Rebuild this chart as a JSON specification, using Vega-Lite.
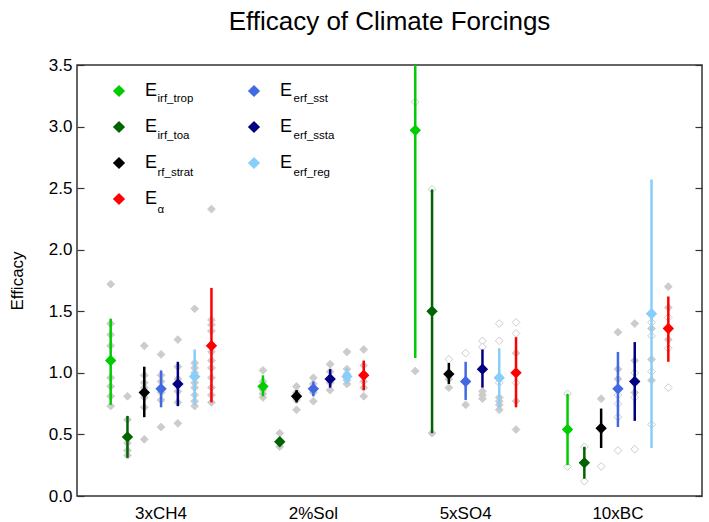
{
  "$schema": "https://vega.github.io/schema/vega-lite/v6.json",
  "width": 625,
  "height": 431,
  "autosize": {"type": "none"},
  "padding": {"left": 77, "top": 65, "right": 7, "bottom": 26},
  "title": {"text": "Efficacy of Climate Forcings", "fontSize": 26, "fontWeight": "normal", "color": "#000000", "anchor": "middle", "frame": "group", "baseline": "alphabetic", "offset": 0},
  "datasets": {
    "means": [
      {"group": "3xCH4", "series": "irf_trop", "sub": "irf_trop", "mean": 1.10, "lo": 0.74, "hi": 1.44},
      {"group": "3xCH4", "series": "irf_toa", "sub": "irf_toa", "mean": 0.48, "lo": 0.31, "hi": 0.65},
      {"group": "3xCH4", "series": "rf_strat", "sub": "rf_strat", "mean": 0.84, "lo": 0.64, "hi": 1.05},
      {"group": "3xCH4", "series": "erf_sst", "sub": "erf_sst", "mean": 0.87, "lo": 0.72, "hi": 1.02},
      {"group": "3xCH4", "series": "erf_ssta", "sub": "erf_ssta", "mean": 0.91, "lo": 0.73, "hi": 1.09},
      {"group": "3xCH4", "series": "erf_reg", "sub": "erf_reg", "mean": 0.97, "lo": 0.74, "hi": 1.19},
      {"group": "3xCH4", "series": "alpha", "sub": "α", "mean": 1.22, "lo": 0.76, "hi": 1.69},
      {"group": "2%Sol", "series": "irf_trop", "sub": "irf_trop", "mean": 0.89, "lo": 0.81, "hi": 0.98},
      {"group": "2%Sol", "series": "irf_toa", "sub": "irf_toa", "mean": 0.44, "lo": 0.42, "hi": 0.47},
      {"group": "2%Sol", "series": "rf_strat", "sub": "rf_strat", "mean": 0.81, "lo": 0.76, "hi": 0.86},
      {"group": "2%Sol", "series": "erf_sst", "sub": "erf_sst", "mean": 0.87, "lo": 0.81, "hi": 0.93},
      {"group": "2%Sol", "series": "erf_ssta", "sub": "erf_ssta", "mean": 0.95, "lo": 0.88, "hi": 1.03},
      {"group": "2%Sol", "series": "erf_reg", "sub": "erf_reg", "mean": 0.97, "lo": 0.91, "hi": 1.04},
      {"group": "2%Sol", "series": "alpha", "sub": "α", "mean": 0.98, "lo": 0.86, "hi": 1.10},
      {"group": "5xSO4", "series": "irf_trop", "sub": "irf_trop", "mean": 2.97, "lo": 1.12, "hi": 3.5},
      {"group": "5xSO4", "series": "irf_toa", "sub": "irf_toa", "mean": 1.50, "lo": 0.51, "hi": 2.49},
      {"group": "5xSO4", "series": "rf_strat", "sub": "rf_strat", "mean": 0.99, "lo": 0.91, "hi": 1.08},
      {"group": "5xSO4", "series": "erf_sst", "sub": "erf_sst", "mean": 0.93, "lo": 0.78, "hi": 1.09},
      {"group": "5xSO4", "series": "erf_ssta", "sub": "erf_ssta", "mean": 1.03, "lo": 0.88, "hi": 1.19},
      {"group": "5xSO4", "series": "erf_reg", "sub": "erf_reg", "mean": 0.96, "lo": 0.71, "hi": 1.20},
      {"group": "5xSO4", "series": "alpha", "sub": "α", "mean": 1.00, "lo": 0.72, "hi": 1.29},
      {"group": "10xBC", "series": "irf_trop", "sub": "irf_trop", "mean": 0.54, "lo": 0.25, "hi": 0.83},
      {"group": "10xBC", "series": "irf_toa", "sub": "irf_toa", "mean": 0.27, "lo": 0.14, "hi": 0.40},
      {"group": "10xBC", "series": "rf_strat", "sub": "rf_strat", "mean": 0.55, "lo": 0.39, "hi": 0.71},
      {"group": "10xBC", "series": "erf_sst", "sub": "erf_sst", "mean": 0.87, "lo": 0.56, "hi": 1.17},
      {"group": "10xBC", "series": "erf_ssta", "sub": "erf_ssta", "mean": 0.93, "lo": 0.61, "hi": 1.25},
      {"group": "10xBC", "series": "erf_reg", "sub": "erf_reg", "mean": 1.48, "lo": 0.39, "hi": 2.57},
      {"group": "10xBC", "series": "alpha", "sub": "α", "mean": 1.36, "lo": 1.09, "hi": 1.62}
    ],
    "models": [
      {"group": "3xCH4", "series": "irf_trop", "v": 1.72, "kind": "filled"},
      {"group": "3xCH4", "series": "irf_trop", "v": 1.40, "kind": "filled"},
      {"group": "3xCH4", "series": "irf_trop", "v": 1.31, "kind": "filled"},
      {"group": "3xCH4", "series": "irf_trop", "v": 1.22, "kind": "filled"},
      {"group": "3xCH4", "series": "irf_trop", "v": 1.10, "kind": "filled"},
      {"group": "3xCH4", "series": "irf_trop", "v": 0.96, "kind": "filled"},
      {"group": "3xCH4", "series": "irf_trop", "v": 0.89, "kind": "filled"},
      {"group": "3xCH4", "series": "irf_trop", "v": 0.81, "kind": "filled"},
      {"group": "3xCH4", "series": "irf_trop", "v": 0.73, "kind": "filled"},
      {"group": "3xCH4", "series": "irf_toa", "v": 0.81, "kind": "filled"},
      {"group": "3xCH4", "series": "irf_toa", "v": 0.62, "kind": "filled"},
      {"group": "3xCH4", "series": "irf_toa", "v": 0.48, "kind": "filled"},
      {"group": "3xCH4", "series": "irf_toa", "v": 0.43, "kind": "filled"},
      {"group": "3xCH4", "series": "irf_toa", "v": 0.37, "kind": "filled"},
      {"group": "3xCH4", "series": "irf_toa", "v": 0.33, "kind": "filled"},
      {"group": "3xCH4", "series": "rf_strat", "v": 1.22, "kind": "filled"},
      {"group": "3xCH4", "series": "rf_strat", "v": 0.98, "kind": "filled"},
      {"group": "3xCH4", "series": "rf_strat", "v": 0.92, "kind": "filled"},
      {"group": "3xCH4", "series": "rf_strat", "v": 0.88, "kind": "filled"},
      {"group": "3xCH4", "series": "rf_strat", "v": 0.80, "kind": "filled"},
      {"group": "3xCH4", "series": "rf_strat", "v": 0.72, "kind": "filled"},
      {"group": "3xCH4", "series": "rf_strat", "v": 0.46, "kind": "filled"},
      {"group": "3xCH4", "series": "erf_sst", "v": 1.15, "kind": "filled"},
      {"group": "3xCH4", "series": "erf_sst", "v": 0.98, "kind": "filled"},
      {"group": "3xCH4", "series": "erf_sst", "v": 0.93, "kind": "filled"},
      {"group": "3xCH4", "series": "erf_sst", "v": 0.84, "kind": "filled"},
      {"group": "3xCH4", "series": "erf_sst", "v": 0.78, "kind": "filled"},
      {"group": "3xCH4", "series": "erf_sst", "v": 0.56, "kind": "filled"},
      {"group": "3xCH4", "series": "erf_ssta", "v": 1.27, "kind": "filled"},
      {"group": "3xCH4", "series": "erf_ssta", "v": 1.05, "kind": "filled"},
      {"group": "3xCH4", "series": "erf_ssta", "v": 0.95, "kind": "filled"},
      {"group": "3xCH4", "series": "erf_ssta", "v": 0.85, "kind": "filled"},
      {"group": "3xCH4", "series": "erf_ssta", "v": 0.76, "kind": "filled"},
      {"group": "3xCH4", "series": "erf_ssta", "v": 0.59, "kind": "filled"},
      {"group": "3xCH4", "series": "erf_reg", "v": 1.52, "kind": "filled"},
      {"group": "3xCH4", "series": "erf_reg", "v": 1.08, "kind": "filled"},
      {"group": "3xCH4", "series": "erf_reg", "v": 1.04, "kind": "filled"},
      {"group": "3xCH4", "series": "erf_reg", "v": 1.00, "kind": "filled"},
      {"group": "3xCH4", "series": "erf_reg", "v": 0.92, "kind": "filled"},
      {"group": "3xCH4", "series": "erf_reg", "v": 0.88, "kind": "filled"},
      {"group": "3xCH4", "series": "erf_reg", "v": 0.82, "kind": "filled"},
      {"group": "3xCH4", "series": "erf_reg", "v": 0.77, "kind": "filled"},
      {"group": "3xCH4", "series": "erf_reg", "v": 0.73, "kind": "filled"},
      {"group": "3xCH4", "series": "alpha", "v": 2.33, "kind": "filled"},
      {"group": "3xCH4", "series": "alpha", "v": 1.43, "kind": "filled"},
      {"group": "3xCH4", "series": "alpha", "v": 1.39, "kind": "filled"},
      {"group": "3xCH4", "series": "alpha", "v": 1.34, "kind": "filled"},
      {"group": "3xCH4", "series": "alpha", "v": 1.17, "kind": "filled"},
      {"group": "3xCH4", "series": "alpha", "v": 1.10, "kind": "filled"},
      {"group": "3xCH4", "series": "alpha", "v": 1.04, "kind": "filled"},
      {"group": "3xCH4", "series": "alpha", "v": 0.96, "kind": "filled"},
      {"group": "3xCH4", "series": "alpha", "v": 0.88, "kind": "filled"},
      {"group": "3xCH4", "series": "alpha", "v": 0.82, "kind": "filled"},
      {"group": "3xCH4", "series": "alpha", "v": 0.76, "kind": "filled"},
      {"group": "2%Sol", "series": "irf_trop", "v": 1.02, "kind": "filled"},
      {"group": "2%Sol", "series": "irf_trop", "v": 0.93, "kind": "filled"},
      {"group": "2%Sol", "series": "irf_trop", "v": 0.86, "kind": "filled"},
      {"group": "2%Sol", "series": "irf_trop", "v": 0.83, "kind": "filled"},
      {"group": "2%Sol", "series": "irf_trop", "v": 0.80, "kind": "filled"},
      {"group": "2%Sol", "series": "irf_toa", "v": 0.51, "kind": "filled"},
      {"group": "2%Sol", "series": "irf_toa", "v": 0.44, "kind": "filled"},
      {"group": "2%Sol", "series": "irf_toa", "v": 0.40, "kind": "filled"},
      {"group": "2%Sol", "series": "rf_strat", "v": 0.89, "kind": "filled"},
      {"group": "2%Sol", "series": "rf_strat", "v": 0.84, "kind": "filled"},
      {"group": "2%Sol", "series": "rf_strat", "v": 0.78, "kind": "filled"},
      {"group": "2%Sol", "series": "rf_strat", "v": 0.70, "kind": "filled"},
      {"group": "2%Sol", "series": "erf_sst", "v": 0.96, "kind": "filled"},
      {"group": "2%Sol", "series": "erf_sst", "v": 0.91, "kind": "filled"},
      {"group": "2%Sol", "series": "erf_sst", "v": 0.84, "kind": "filled"},
      {"group": "2%Sol", "series": "erf_sst", "v": 0.77, "kind": "filled"},
      {"group": "2%Sol", "series": "erf_ssta", "v": 1.07, "kind": "filled"},
      {"group": "2%Sol", "series": "erf_ssta", "v": 1.01, "kind": "filled"},
      {"group": "2%Sol", "series": "erf_ssta", "v": 0.92, "kind": "filled"},
      {"group": "2%Sol", "series": "erf_ssta", "v": 0.86, "kind": "filled"},
      {"group": "2%Sol", "series": "erf_reg", "v": 1.17, "kind": "filled"},
      {"group": "2%Sol", "series": "erf_reg", "v": 1.03, "kind": "filled"},
      {"group": "2%Sol", "series": "erf_reg", "v": 0.99, "kind": "filled"},
      {"group": "2%Sol", "series": "erf_reg", "v": 0.94, "kind": "filled"},
      {"group": "2%Sol", "series": "erf_reg", "v": 0.91, "kind": "filled"},
      {"group": "2%Sol", "series": "alpha", "v": 1.19, "kind": "filled"},
      {"group": "2%Sol", "series": "alpha", "v": 1.06, "kind": "filled"},
      {"group": "2%Sol", "series": "alpha", "v": 0.99, "kind": "filled"},
      {"group": "2%Sol", "series": "alpha", "v": 0.93, "kind": "filled"},
      {"group": "2%Sol", "series": "alpha", "v": 0.88, "kind": "filled"},
      {"group": "2%Sol", "series": "alpha", "v": 0.81, "kind": "filled"},
      {"group": "5xSO4", "series": "irf_trop", "v": 3.20, "kind": "open"},
      {"group": "5xSO4", "series": "irf_trop", "v": 1.015, "kind": "filled"},
      {"group": "5xSO4", "series": "irf_toa", "v": 2.49, "kind": "open"},
      {"group": "5xSO4", "series": "irf_toa", "v": 0.51, "kind": "filled"},
      {"group": "5xSO4", "series": "rf_strat", "v": 1.11, "kind": "open"},
      {"group": "5xSO4", "series": "rf_strat", "v": 0.95, "kind": "filled"},
      {"group": "5xSO4", "series": "rf_strat", "v": 0.88, "kind": "filled"},
      {"group": "5xSO4", "series": "erf_sst", "v": 1.16, "kind": "open"},
      {"group": "5xSO4", "series": "erf_sst", "v": 0.93, "kind": "filled"},
      {"group": "5xSO4", "series": "erf_sst", "v": 0.74, "kind": "filled"},
      {"group": "5xSO4", "series": "erf_ssta", "v": 1.26, "kind": "open"},
      {"group": "5xSO4", "series": "erf_ssta", "v": 1.21, "kind": "open"},
      {"group": "5xSO4", "series": "erf_ssta", "v": 0.85, "kind": "filled"},
      {"group": "5xSO4", "series": "erf_ssta", "v": 0.82, "kind": "filled"},
      {"group": "5xSO4", "series": "erf_ssta", "v": 0.79, "kind": "filled"},
      {"group": "5xSO4", "series": "erf_reg", "v": 1.40, "kind": "open"},
      {"group": "5xSO4", "series": "erf_reg", "v": 1.26, "kind": "open"},
      {"group": "5xSO4", "series": "erf_reg", "v": 0.92, "kind": "open"},
      {"group": "5xSO4", "series": "erf_reg", "v": 0.80, "kind": "filled"},
      {"group": "5xSO4", "series": "erf_reg", "v": 0.77, "kind": "filled"},
      {"group": "5xSO4", "series": "erf_reg", "v": 0.74, "kind": "filled"},
      {"group": "5xSO4", "series": "erf_reg", "v": 0.70, "kind": "filled"},
      {"group": "5xSO4", "series": "alpha", "v": 1.41, "kind": "open"},
      {"group": "5xSO4", "series": "alpha", "v": 1.32, "kind": "open"},
      {"group": "5xSO4", "series": "alpha", "v": 0.92, "kind": "open"},
      {"group": "5xSO4", "series": "alpha", "v": 1.16, "kind": "filled"},
      {"group": "5xSO4", "series": "alpha", "v": 0.77, "kind": "filled"},
      {"group": "5xSO4", "series": "alpha", "v": 0.54, "kind": "filled"},
      {"group": "10xBC", "series": "irf_trop", "v": 0.83, "kind": "open"},
      {"group": "10xBC", "series": "irf_trop", "v": 0.24, "kind": "open"},
      {"group": "10xBC", "series": "irf_toa", "v": 0.40, "kind": "open"},
      {"group": "10xBC", "series": "irf_toa", "v": 0.12, "kind": "open"},
      {"group": "10xBC", "series": "rf_strat", "v": 0.79, "kind": "filled"},
      {"group": "10xBC", "series": "rf_strat", "v": 0.55, "kind": "filled"},
      {"group": "10xBC", "series": "rf_strat", "v": 0.24, "kind": "open"},
      {"group": "10xBC", "series": "erf_sst", "v": 1.33, "kind": "filled"},
      {"group": "10xBC", "series": "erf_sst", "v": 1.03, "kind": "filled"},
      {"group": "10xBC", "series": "erf_sst", "v": 0.95, "kind": "filled"},
      {"group": "10xBC", "series": "erf_sst", "v": 0.82, "kind": "open"},
      {"group": "10xBC", "series": "erf_sst", "v": 0.75, "kind": "open"},
      {"group": "10xBC", "series": "erf_sst", "v": 0.64, "kind": "open"},
      {"group": "10xBC", "series": "erf_sst", "v": 0.37, "kind": "open"},
      {"group": "10xBC", "series": "erf_ssta", "v": 1.40, "kind": "filled"},
      {"group": "10xBC", "series": "erf_ssta", "v": 1.10, "kind": "filled"},
      {"group": "10xBC", "series": "erf_ssta", "v": 0.84, "kind": "filled"},
      {"group": "10xBC", "series": "erf_ssta", "v": 1.00, "kind": "open"},
      {"group": "10xBC", "series": "erf_ssta", "v": 0.80, "kind": "open"},
      {"group": "10xBC", "series": "erf_ssta", "v": 0.38, "kind": "open"},
      {"group": "10xBC", "series": "erf_reg", "v": 1.36, "kind": "filled"},
      {"group": "10xBC", "series": "erf_reg", "v": 1.11, "kind": "filled"},
      {"group": "10xBC", "series": "erf_reg", "v": 0.94, "kind": "filled"},
      {"group": "10xBC", "series": "erf_reg", "v": 1.41, "kind": "open"},
      {"group": "10xBC", "series": "erf_reg", "v": 1.30, "kind": "open"},
      {"group": "10xBC", "series": "erf_reg", "v": 1.01, "kind": "open"},
      {"group": "10xBC", "series": "erf_reg", "v": 0.58, "kind": "open"},
      {"group": "10xBC", "series": "alpha", "v": 1.70, "kind": "filled"},
      {"group": "10xBC", "series": "alpha", "v": 1.53, "kind": "filled"},
      {"group": "10xBC", "series": "alpha", "v": 1.27, "kind": "filled"},
      {"group": "10xBC", "series": "alpha", "v": 1.45, "kind": "open"},
      {"group": "10xBC", "series": "alpha", "v": 1.20, "kind": "open"},
      {"group": "10xBC", "series": "alpha", "v": 0.88, "kind": "open"}
    ]
  },
  "config": {
    "font": "Liberation Sans",
    "view": {"stroke": "#333333", "strokeWidth": 1.5},
    "axis": {"grid": false, "domain": false, "labelColor": "#000000", "titleColor": "#000000", "labelFont": "Liberation Sans", "titleFont": "Liberation Sans"},
    "axisX": {"ticks": false, "labelFontSize": 17, "labelPadding": 9, "labelAngle": 0},
    "axisY": {"tickSize": -7, "tickColor": "#333333", "tickWidth": 1.2, "labelFontSize": 17, "labelPadding": 12},
    "legend": {"labelFont": "Liberation Sans", "labelColor": "#000000"}
  },
  "resolve": {"axis": {"y": "independent"}},
  "layer": [
    {
      "mark": {"type": "rule", "strokeDash": [8, 6], "color": "#444444", "strokeWidth": 1.5},
      "encoding": {
        "y": {"datum": 1, "type": "quantitative", "scale": {"domain": [0, 3.5], "nice": false, "zero": false}, "axis": null}
      }
    },
    {
      "data": {"name": "models"},
      "mark": {"type": "point", "shape": "diamond", "size": 60, "strokeWidth": 1, "stroke": "#cccccc", "opacity": 1},
      "encoding": {
        "x": {"field": "group", "type": "nominal", "title": null, "scale": {"domain": ["3xCH4", "2%Sol", "5xSO4", "10xBC"], "paddingInner": 0.228, "paddingOuter": 0.166}},
        "xOffset": {"field": "series", "type": "nominal", "scale": {"domain": ["irf_trop", "irf_toa", "rf_strat", "erf_sst", "erf_ssta", "erf_reg", "alpha"], "paddingInner": 0, "paddingOuter": 0}},
        "y": {"field": "v", "type": "quantitative", "axis": null},
        "fill": {"field": "kind", "type": "nominal", "scale": {"domain": ["filled", "open"], "range": ["#cccccc", "#ffffff"]}, "legend": null}
      }
    },
    {
      "data": {"name": "means"},
      "mark": {"type": "rule", "strokeWidth": 2.5},
      "encoding": {
        "x": {"field": "group", "type": "nominal", "title": null},
        "xOffset": {"field": "series", "type": "nominal"},
        "y": {"field": "lo", "type": "quantitative", "axis": {"orient": "right", "labels": false, "title": null, "values": [0, 0.5, 1, 1.5, 2, 2.5, 3, 3.5]}},
        "y2": {"field": "hi"},
        "color": {"field": "series", "type": "nominal", "scale": {"domain": ["irf_trop", "irf_toa", "rf_strat", "alpha", "erf_sst", "erf_ssta", "erf_reg"], "range": ["#00CD00", "#006400", "#000000", "#FF0000", "#4169E1", "#000080", "#87CEFA"]}}
      }
    },
    {
      "data": {"name": "means"},
      "mark": {"type": "point", "shape": "diamond", "filled": true, "size": 130, "opacity": 1},
      "encoding": {
        "x": {"field": "group", "type": "nominal", "title": null},
        "xOffset": {"field": "series", "type": "nominal"},
        "y": {"field": "mean", "type": "quantitative", "axis": {"orient": "left", "title": "Efficacy", "titleFontSize": 17, "titleFontWeight": "normal", "titlePadding": 22, "values": [0, 0.5, 1, 1.5, 2, 2.5, 3, 3.5], "format": ".1f"}},
        "color": {"field": "series", "type": "nominal", "legend": {"orient": "none", "legendX": 33, "legendY": 17, "columns": 2, "columnPadding": 87, "rowPadding": 18, "symbolType": "diamond", "symbolSize": 150, "symbolStrokeWidth": 0, "symbolOpacity": 1, "labelFontSize": 18, "labelOffset": 17, "labelExpr": "'E'", "title": null, "padding": 0}},
        "shape": {"field": "sub", "type": "nominal", "scale": {"domain": ["irf_trop", "irf_toa", "rf_strat", "α", "erf_sst", "erf_ssta", "erf_reg"], "range": ["diamond", "diamond", "diamond", "diamond", "diamond", "diamond", "diamond"]}, "legend": {"orient": "none", "legendX": 69, "legendY": 28, "columns": 2, "columnPadding": 88, "rowPadding": 24, "symbolSize": 1, "symbolOpacity": 0, "symbolStrokeWidth": 0, "labelOffset": 0, "labelFontSize": 11.5, "title": null, "padding": 0}}
      }
    }
  ]
}
